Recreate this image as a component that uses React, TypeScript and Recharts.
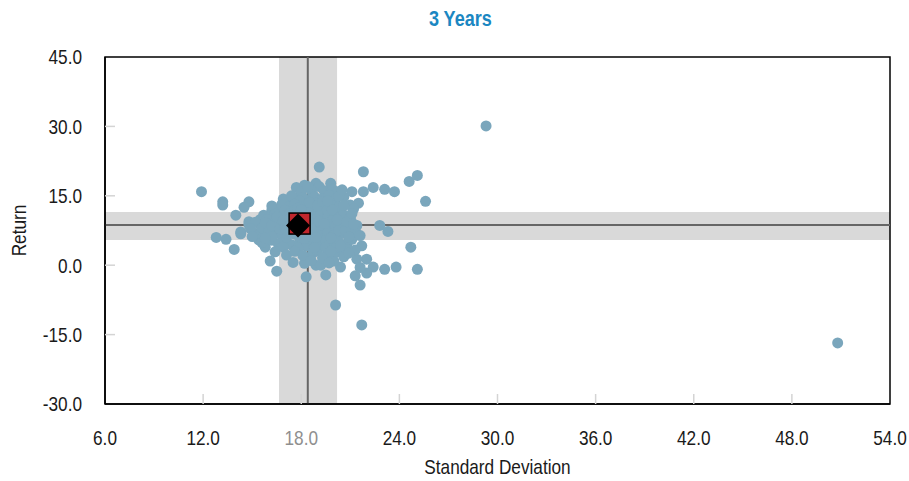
import React from 'react';
import { ScatterChart, Scatter, XAxis, YAxis, ReferenceArea, ReferenceLine } from 'recharts';

// peer funds: [standard deviation, return]
const peerFunds: [number, number][] = [
  [29.3, 30.1], [50.8, -16.8], [11.9, 15.9], [13.2, 13.7], [13.2, 13.0], [14.8, 13.7],
  [14.5, 12.5], [14.0, 10.8], [14.8, 9.4], [14.8, 8.8], [12.8, 6.0], [13.4, 5.6],
  [13.9, 3.4], [14.3, 7.2], [14.3, 6.8], [15.5, 9.9], [16.2, 11.9], [16.1, 0.9],
  [16.5, -1.3], [15.8, 3.9], [15.4, 5.5], [19.1, 21.2], [21.8, 20.2], [17.7, 16.8],
  [18.2, 17.3], [18.9, 17.7], [19.1, 17.0], [19.8, 17.7], [20.2, 15.9], [21.1, 15.9],
  [21.8, 15.9], [22.4, 16.8], [23.1, 16.4], [23.7, 15.9], [24.6, 18.1], [25.1, 19.4],
  [25.6, 13.8], [20.6, 14.7], [21.0, 13.0], [21.5, 13.4], [22.8, 8.6], [23.3, 7.3],
  [21.4, 8.6], [21.0, 8.3], [24.7, 3.9], [25.1, -0.9], [23.8, -0.4], [23.1, -0.9],
  [22.4, -0.4], [22.0, 1.3], [21.4, 1.3], [21.7, 4.2], [21.3, -2.3], [21.6, -4.3],
  [22.0, -1.7], [20.1, -8.6], [21.7, -12.9], [19.5, -2.1], [18.3, -2.5], [18.2, 0.4],
  [20.4, -0.4], [20.0, 0.9], [18.9, 0.0], [19.2, 0.0], [18.7, 2.6], [21.2, 12.2],
  [18.7, 15.2], [20.5, 6.9], [20.0, 12.3], [20.4, 11.9], [20.6, 10.5], [21.0, 9.8],
  [21.6, -0.5], [21.3, 3.3], [20.8, 4.7], [17.3, 14.2], [17.7, 14.5], [16.9, 12.3],
  [16.6, 11.6],
  [18.6, 16.3], [19.4, 16.1], [18.0, 15.8], [19.9, 16.4], [18.4, 17.0],
  [16.9, 14.3], [17.4, 15.0], [18.1, 14.6], [18.8, 14.8], [19.3, 14.4], [19.7, 15.1],
  [20.1, 14.2], [17.9, 13.9],
  [16.2, 12.8], [16.8, 13.1], [17.2, 12.5], [17.6, 13.2], [18.3, 12.9], [18.9, 13.4],
  [19.4, 12.7], [19.8, 13.0], [20.3, 12.6], [17.0, 11.9], [18.6, 12.1], [19.1, 11.8],
  [15.7, 10.8], [16.0, 10.2], [16.4, 11.0], [16.9, 10.6], [17.3, 11.2], [17.7, 10.4],
  [18.2, 10.9], [18.7, 10.5], [19.2, 11.1], [19.6, 10.3], [20.0, 10.8], [20.6, 10.9],
  [15.9, 9.9], [16.6, 9.7], [18.9, 9.9], [19.9, 9.6],
  [15.5, 8.7], [15.9, 8.2], [16.3, 9.0], [16.7, 8.5], [17.1, 9.2], [17.5, 8.3],
  [18.0, 8.9], [18.5, 8.4], [18.9, 9.0], [19.3, 8.2], [19.7, 8.8], [20.1, 8.3],
  [20.5, 8.9], [15.2, 9.3], [16.1, 7.9],
  [15.3, 6.8], [15.6, 7.4], [16.0, 6.5], [16.4, 7.1], [16.8, 6.4], [17.2, 7.3],
  [17.6, 6.7], [18.0, 7.5], [18.4, 6.6], [18.8, 7.2], [19.2, 6.3], [19.6, 7.0],
  [20.0, 6.5], [20.3, 7.6], [14.9, 7.9], [15.0, 6.2],
  [15.6, 4.9], [16.2, 5.4], [16.6, 4.6], [17.0, 5.3], [17.4, 4.4], [17.9, 5.0],
  [18.3, 4.2], [18.7, 5.2], [19.1, 4.6], [19.5, 5.4], [19.9, 4.3], [20.3, 5.0],
  [17.8, 3.7], [16.9, 3.9],
  [16.4, 2.9], [17.1, 2.2], [17.6, 3.0], [18.1, 2.1], [19.0, 3.2], [19.6, 2.4],
  [20.2, 2.9], [19.3, 1.6],
  [17.5, 0.6], [18.6, 1.0], [19.7, 0.5], [20.6, 1.8],
  [21.0, 10.2], [21.3, 7.6], [21.1, 5.6], [20.8, 3.4], [21.6, 6.4],
  [15.6, 8.0], [15.8, 9.2], [16.0, 7.3], [16.2, 8.6], [16.5, 10.4], [16.7, 7.8],
  [16.9, 9.6], [17.1, 6.0], [17.3, 10.0], [17.4, 7.8], [17.6, 11.8], [17.8, 12.4],
  [17.9, 6.1], [18.1, 11.6], [18.2, 5.8], [18.4, 11.4], [18.5, 13.6], [18.6, 7.9],
  [18.8, 3.8], [18.9, 6.0], [19.0, 12.9], [19.1, 9.5], [19.3, 13.8], [19.4, 9.0],
  [19.5, 3.9], [19.6, 11.9], [19.8, 5.9], [19.9, 12.0], [20.0, 3.6], [20.2, 9.8],
  [20.3, 14.9], [20.4, 4.2], [20.6, 12.9], [20.7, 7.5], [20.8, 9.4], [20.9, 6.1],
  [21.1, 11.2], [21.2, 8.9], [20.5, 16.3], [19.6, 13.9], [18.0, 12.0], [17.0, 8.0],
  [16.2, 6.2], [15.8, 5.8], [19.8, 3.0], [20.9, 2.6], [18.4, 9.7], [17.7, 9.6],
];

const fundPoint = [{ sd: 17.9, ret: 9.0 }];
const benchmarkPoint = [{ sd: 17.8, ret: 8.6 }];

const medianStdDev = 18.4;
const medianReturn = 8.7;
const stdDevBand = [16.64, 20.19];
const returnBand = [5.45, 11.5];

const xTicks = [6, 12, 18, 24, 30, 36, 42, 48, 54];
const yTicks = [-30, -15, 0, 15, 30, 45];

const peerData = peerFunds.map(([sd, ret]) => ({ sd, ret }));

const Y_AXIS_WIDTH = 105;
const FONT = "'Liberation Sans', Arial, sans-serif";
const NARROW = 0.82; // fake Arial Narrow

const NarrowText = ({ x, y, anchor = 'middle', size = 21, fill = '#1a1a1a', rotate = 0, children }: any) => (
  <g transform={`translate(${x}, ${y}) rotate(${rotate}) scale(${NARROW}, 1)`}>
    <text x={0} y={0} dy="0.35em" textAnchor={anchor} fontFamily={FONT} fontSize={size} fill={fill}>
      {children}
    </text>
  </g>
);

const XTick = (props: any) => {
  const { x, y, payload } = props;
  const v = payload.value;
  const inner = v !== xTicks[0] && v !== xTicks[xTicks.length - 1];
  return (
    <g>
      {inner && <line x1={x} x2={x} y1={y} y2={y - 10} stroke="#d4d4d4" strokeWidth={1.5} />}
      <NarrowText x={x} y={y + 34} fill={v === 18 ? '#8f8f8f' : '#1a1a1a'}>{v.toFixed(1)}</NarrowText>
    </g>
  );
};

const YTick = (props: any) => {
  const { y, payload } = props;
  const axisX = Y_AXIS_WIDTH;
  const v = payload.value;
  const inner = v !== yTicks[0] && v !== yTicks[yTicks.length - 1];
  return (
    <g>
      {inner && <line x1={axisX} x2={axisX + 10} y1={y} y2={y} stroke="#d4d4d4" strokeWidth={1.5} />}
      <NarrowText x={axisX - 23} y={y} anchor="end">{v.toFixed(1)}</NarrowText>
    </g>
  );
};

const Dot = (props: any) => <circle cx={props.cx} cy={props.cy} r={5.5} fill="#7aa6bc" />;

const FundSquare = (props: any) => (
  <rect x={props.cx - 10.5} y={props.cy - 10.5} width={21} height={21} fill="#c0272d" stroke="#000" strokeWidth={1.5} />
);

const BenchDiamond = (props: any) => {
  const { cx, cy } = props;
  const r = 12;
  return <polygon points={`${cx},${cy - r} ${cx + r},${cy} ${cx},${cy + r} ${cx - r},${cy}`} fill="#000" />;
};

const App = () => {
  return (
    <div style={{ position: 'relative', width: 909, height: 481 }}>
      <style>{'body{margin:0}'}</style>
      <div style={{ position: 'absolute', top: 6, left: 0, width: 920, textAlign: 'center' }}>
        <span style={{
          display: 'inline-block', transform: `scaleX(${NARROW})`,
          fontFamily: FONT, fontWeight: 'bold', fontSize: 22, color: '#1b87c2',
        }}>
          3 Years
        </span>
      </div>
      <ScatterChart width={909} height={481} margin={{ top: 57, right: 19, bottom: 0, left: 0 }}>
        <XAxis
          type="number"
          dataKey="sd"
          domain={[6, 54]}
          ticks={xTicks}
          interval={0}
          height={77}
          tickSize={0}
          tickMargin={0}
          tick={<XTick />}
          axisLine={{ stroke: '#000', strokeWidth: 1.5 }}
          allowDataOverflow
          label={{
            content: (p: any) => {
              const vb = p.viewBox;
              return <NarrowText x={vb.x + vb.width / 2} y={vb.y + 63} size={21}>Standard Deviation</NarrowText>;
            },
          }}
        />
        <YAxis
          type="number"
          dataKey="ret"
          domain={[-30, 45]}
          ticks={yTicks}
          interval={0}
          width={Y_AXIS_WIDTH}
          tickSize={0}
          tickMargin={0}
          tick={<YTick />}
          axisLine={{ stroke: '#000', strokeWidth: 1.5 }}
          allowDataOverflow
          label={{
            content: (p: any) => {
              const vb = p.viewBox;
              return <NarrowText x={19} y={vb.y + vb.height / 2} rotate={-90} size={21}>Return</NarrowText>;
            },
          }}
        />
        <ReferenceArea x1={stdDevBand[0]} x2={stdDevBand[1]} y1={-30} y2={45} fill="#d9d9d9" fillOpacity={1} stroke="none" />
        <ReferenceArea x1={6} x2={54} y1={returnBand[0]} y2={returnBand[1]} fill="#d9d9d9" fillOpacity={1} stroke="none" />
        <Scatter data={peerData} shape={<Dot />} isAnimationActive={false} />
        <Scatter data={fundPoint} shape={<FundSquare />} isAnimationActive={false} />
        <Scatter data={benchmarkPoint} shape={<BenchDiamond />} isAnimationActive={false} />
        <ReferenceLine x={medianStdDev} stroke="#666" strokeWidth={2} />
        <ReferenceLine y={medianReturn} stroke="#666" strokeWidth={2} />
        <ReferenceArea x1={6} x2={54} y1={-30} y2={45} fill="none" stroke="#000" strokeWidth={1.5} />
      </ScatterChart>
    </div>
  );
};

export default App;
